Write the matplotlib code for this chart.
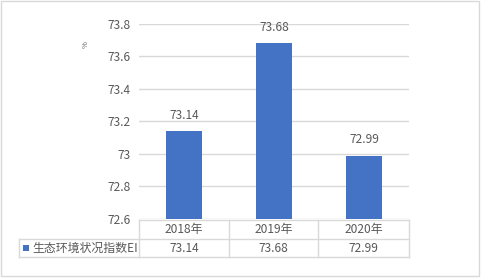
import matplotlib
matplotlib.use("Agg")
import matplotlib.pyplot as plt
from matplotlib.lines import Line2D
from matplotlib.patches import Rectangle

plt.rcParams["font.family"] = ["Noto Sans CJK SC", "DejaVu Sans"]

# data
years = ["2018年", "2019年", "2020年"]
ei_values = [73.14, 73.68, 72.99]
series_name = "生态环境状况指数EI"
y_ticks = [72.6, 72.8, 73.0, 73.2, 73.4, 73.6, 73.8]
y_tick_labels = ["72.6", "72.8", "73", "73.2", "73.4", "73.6", "73.8"]

W, H = 482, 278
text_color = "#595959"
grid_color = "#d9d9d9"
bar_color = "#4472C4"
fs = 8.6

fig = plt.figure(figsize=(W / 100, H / 100), dpi=100)

def fx(px):
    return px / W

def fy(py):
    return 1 - py / H

# outer border
fig.add_artist(Rectangle((fx(1), fy(276)), fx(478), 275 / H, transform=fig.transFigure,
                         fill=False, edgecolor=grid_color, linewidth=1))

# main plot
ax = fig.add_axes([fx(139), fy(219), fx(270), 195 / H])
x = range(len(years))
ax.bar(x, [v - y_ticks[0] for v in ei_values], bottom=y_ticks[0], width=0.4, color=bar_color)
ax.set_xlim(-0.5, len(years) - 0.5)
ax.set_ylim(y_ticks[0], y_ticks[-1])
ax.set_yticks(y_ticks)
ax.set_yticklabels(y_tick_labels, fontsize=fs, color=text_color)
ax.set_xticks([])
ax.tick_params(axis="y", length=0, pad=6)
ax.grid(axis="y", color=grid_color, linewidth=1)
ax.set_axisbelow(True)
for s in ax.spines.values():
    s.set_visible(False)

for i, v in enumerate(ei_values):
    ax.annotate(f"{v:.2f}", (i, v), xytext=(0, 7), textcoords="offset points",
                ha="center", va="bottom", fontsize=fs, color=text_color)

# unit label
fig.text(fx(86), fy(45), "%", rotation=90, fontsize=5.5, color=text_color,
         ha="center", va="center")

# data table below the plot
def hline(y, x0, x1):
    fig.add_artist(Line2D([fx(x0), fx(x1)], [fy(y), fy(y)], transform=fig.transFigure,
                          color=grid_color, linewidth=1))

def vline(xp, y0, y1):
    fig.add_artist(Line2D([fx(xp), fx(xp)], [fy(y0), fy(y1)], transform=fig.transFigure,
                          color=grid_color, linewidth=1))

col_edges = [139, 229, 318, 409]
hline(220, 139, 409)
hline(239, 19, 409)
hline(257, 19, 409)
for cx in col_edges:
    vline(cx, 220, 257)
vline(19, 239, 257)

for i, (yr, v) in enumerate(zip(years, ei_values)):
    cx = (col_edges[i] + col_edges[i + 1]) / 2
    fig.text(fx(cx), fy(229.5), yr, ha="center", va="center", fontsize=fs, color=text_color)
    fig.text(fx(cx), fy(248), f"{v:.2f}", ha="center", va="center", fontsize=fs, color=text_color)

fig.add_artist(Rectangle((fx(23), fy(251)), fx(6), 6 / H, transform=fig.transFigure,
                         facecolor=bar_color, edgecolor="none"))
fig.text(fx(32), fy(248), series_name, ha="left", va="center", fontsize=fs, color=text_color)

fig.savefig("out.png", dpi=100)
